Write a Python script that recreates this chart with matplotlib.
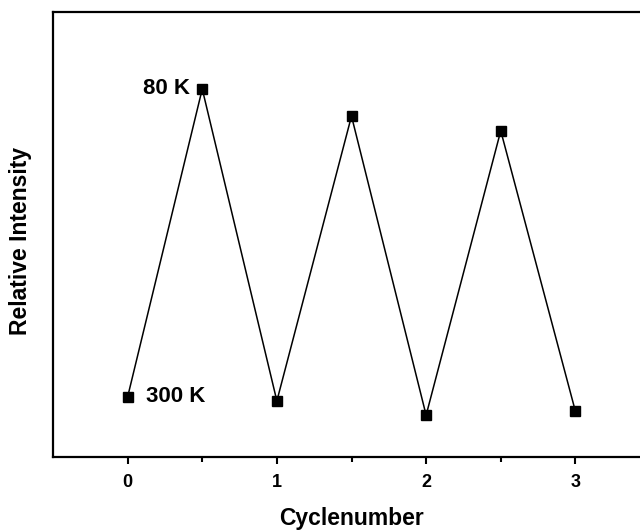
import matplotlib.pyplot as plt
import numpy as np

plt.rcParams['font.family'] = ['Liberation Sans', 'DejaVu Sans']

cycle = [0, 0.5, 1, 1.5, 2, 2.5, 3]
intensity = [0.135, 0.827, 0.126, 0.766, 0.094, 0.733, 0.103]
xticks = [0, 1, 2, 3]
minor_xticks = [0.5, 1.5, 2.5]

fig = plt.figure(figsize=(6.4, 5.3), dpi=100)
ax = fig.add_axes([53 / 640, 1 - 457 / 530, 597 / 640, 445 / 530])

ax.plot(cycle, intensity, color='black', lw=1.1, marker='s', ms=6.5,
        mfc='black', mec='black')

ax.set_xlim(-0.5, 3.5)
ax.set_ylim(0, 1)
ax.set_xticks(xticks)
ax.set_xticks(minor_xticks, minor=True)
ax.set_xticklabels([str(t) for t in xticks], fontsize=13, fontweight='bold')
ax.set_yticks([])
ax.tick_params(axis='x', which='major', direction='out', length=5, width=1.5, pad=7)
ax.tick_params(axis='x', which='minor', direction='out', length=3.5, width=1.5)

for s in ax.spines.values():
    s.set_linewidth(1.6)

ax.set_xlabel('Cyclenumber', fontsize=16.5, fontweight='bold', labelpad=12)
ax.set_ylabel('Relative Intensity', fontsize=16.5, fontweight='bold')
ax.yaxis.set_label_coords(-0.036, 0.485)

ax.annotate('80 K', (cycle[1], intensity[1]), xytext=(-9, 0),
            textcoords='offset points', ha='right', va='center',
            fontsize=16, fontweight='bold')
ax.annotate('300 K', (cycle[0], intensity[0]), xytext=(13, 0),
            textcoords='offset points', ha='left', va='center',
            fontsize=16, fontweight='bold')

fig.savefig('out.png', dpi=100)
